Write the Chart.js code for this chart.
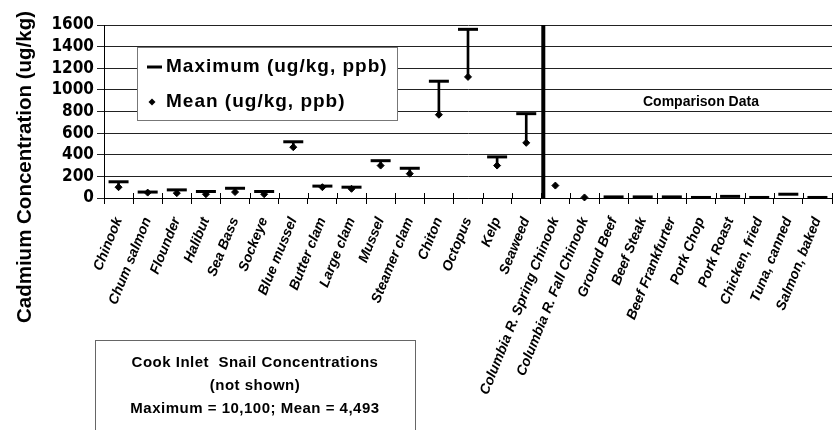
<!DOCTYPE html>
<html>
<head>
<meta charset="utf-8">
<script src="https://cdn.jsdelivr.net/npm/chart.js@4.4.1/dist/chart.umd.min.js"></script>
<style>
  html, body { margin: 0; padding: 0; background: #fff; overflow: hidden; }
  #wrap { width: 835px; height: 430px; overflow: hidden; position: relative; }
  canvas { display: block; }
</style>
</head>
<body>
<div id="wrap"><canvas id="chart" width="845" height="430"></canvas></div>
<script>
// Sample categories: Cook Inlet species first, then comparison foods
const categories = [
  'Chinook', 'Chum salmon', 'Flounder', 'Halibut', 'Sea Bass', 'Sockeye',
  'Blue mussel', 'Butter clam', 'Large clam', 'Mussel', 'Steamer clam',
  'Chiton', 'Octopus', 'Kelp', 'Seaweed',
  'Columbia R. Spring Chinook', 'Columbia R. Fall Chinook', 'Ground Beef',
  'Beef Steak', 'Beef Frankfurter', 'Pork Chop', 'Pork Roast',
  'Chicken, fried', 'Tuna, canned', 'Salmon, baked'
];

// Maximum cadmium concentration (ug/kg)
const maxValues = [
  150, 55, 75, 60, 90, 60,
  520, 110, 100, 345, 275,
  1080, 1560, 380, 780,
  null, null, 10,
  10, 10, 5, 15,
  5, 35, 5
];

// Mean cadmium concentration (ug/kg)
const meanValues = [
  100, 50, 45, 35, 55, 35,
  470, 100, 85, 300, 225,
  770, 1120, 300, 510,
  115, 5, null,
  null, null, null, null,
  null, null, null
];

const yTicks = [0, 200, 400, 600, 800, 1000, 1200, 1400, 1600];
const firstComparisonIndex = 15;
const axisTitle = 'Cadmium Concentration (ug/kg)';
const comparisonLabel = 'Comparison Data';
const legendLabels = ['Maximum (ug/kg, ppb)', 'Mean (ug/kg, ppb)'];
const snailNote = [
  'Cook Inlet  Snail Concentrations',
  '(not shown)',
  'Maximum = 10,100; Mean = 4,493'
];

// Vertical stems joining each mean to its maximum
const stems = categories.map((_, i) =>
  (meanValues[i] != null && maxValues[i] != null) ? [meanValues[i], maxValues[i]] : null);

const SANS = "'Liberation Sans', Arial, Helvetica, sans-serif";
const NARROW = "'Liberation Sans Narrow', 'Arial Narrow', 'DejaVu Sans Condensed', sans-serif";

const decorations = {
  id: 'decorations',
  afterDraw(chart) {
    const { ctx, chartArea: area, scales: { x, y } } = chart;
    const step = x.getPixelForValue(1) - x.getPixelForValue(0);
    ctx.save();

    // Tick stubs above the category axis
    ctx.strokeStyle = '#000';
    ctx.lineWidth = 1;
    ctx.beginPath();
    for (let i = 0; i <= categories.length; i++) {
      const px = Math.round(x.getPixelForValue(i) - step / 2) + 0.5;
      ctx.moveTo(px, area.bottom - 5);
      ctx.lineTo(px, area.bottom);
    }
    ctx.stroke();

    // Divider between the local samples and the comparison data
    const divX = x.getPixelForValue(firstComparisonIndex) - step / 2 + 2.5;
    ctx.lineWidth = 4;
    ctx.beginPath();
    ctx.moveTo(divX, area.top);
    ctx.lineTo(divX, area.bottom);
    ctx.stroke();

    // Comparison section caption
    ctx.fillStyle = '#000';
    ctx.font = `bold 14px ${SANS}`;
    ctx.textAlign = 'center';
    ctx.textBaseline = 'middle';
    ctx.fillText(comparisonLabel, x.getPixelForValue(20), y.getPixelForValue(890));

    // Y axis title
    ctx.save();
    ctx.translate(25, 167);
    ctx.rotate(-Math.PI / 2);
    ctx.font = `bold 20.5px ${SANS}`;
    ctx.textAlign = 'center';
    ctx.textBaseline = 'middle';
    ctx.fillText(axisTitle, 0, 0);
    ctx.restore();

    // Legend box
    const lx = area.left + 33, ly = area.top + 22, lw = 260, lh = 73;
    ctx.fillStyle = '#fff';
    ctx.fillRect(lx, ly, lw, lh);
    ctx.strokeStyle = '#777';
    ctx.lineWidth = 1;
    ctx.strokeRect(lx + 0.5, ly + 0.5, lw, lh);

    ctx.fillStyle = '#000';
    ctx.strokeStyle = '#000';
    ctx.lineWidth = 3;
    ctx.beginPath();
    ctx.moveTo(lx + 10, ly + 20);
    ctx.lineTo(lx + 25, ly + 20);
    ctx.stroke();

    const dx = lx + 15, dy = ly + 55, r = 3.5;
    ctx.beginPath();
    ctx.moveTo(dx - r, dy);
    ctx.lineTo(dx, dy - r);
    ctx.lineTo(dx + r, dy);
    ctx.lineTo(dx, dy + r);
    ctx.closePath();
    ctx.fill();

    ctx.font = `bold 19px ${SANS}`;
    ctx.letterSpacing = '1px';
    ctx.textAlign = 'left';
    ctx.textBaseline = 'middle';
    ctx.fillText(legendLabels[0], lx + 29, ly + 20);
    ctx.fillText(legendLabels[1], lx + 29, ly + 55);
    ctx.letterSpacing = '0px';

    // Note box about the snail samples
    const bx = 95, by = 340, bw = 320, bh = 100;
    ctx.fillStyle = '#fff';
    ctx.fillRect(bx, by, bw, bh);
    ctx.strokeStyle = '#666';
    ctx.lineWidth = 1;
    ctx.strokeRect(bx + 0.5, by + 0.5, bw, bh);
    ctx.fillStyle = '#000';
    ctx.font = `bold 15px ${SANS}`;
    ctx.textAlign = 'center';
    ctx.letterSpacing = '0.5px';
    snailNote.forEach((line, k) => ctx.fillText(line, bx + bw / 2, by + 23 + k * 23));
    ctx.restore();
  }
};

new Chart(document.getElementById('chart'), {
  type: 'bar',
  data: {
    labels: categories,
    datasets: [
      {
        label: legendLabels[0],
        type: 'line',
        data: maxValues,
        showLine: false,
        pointStyle: 'line',
        pointRadius: 10,
        pointHoverRadius: 10,
        borderWidth: 3,
        borderColor: '#000',
        backgroundColor: '#000',
        clip: false
      },
      {
        label: legendLabels[1],
        type: 'line',
        data: meanValues,
        showLine: false,
        pointStyle: 'rectRot',
        pointRadius: 3.5,
        pointHoverRadius: 3.5,
        borderWidth: 1,
        borderColor: '#000',
        backgroundColor: '#000',
        clip: false
      },
      {
        label: 'range',
        type: 'bar',
        data: stems,
        barThickness: 2,
        backgroundColor: '#000',
        borderWidth: 0
      }
    ]
  },
  options: {
    responsive: false,
    animation: false,
    devicePixelRatio: 1,
    layout: { padding: { left: 0, top: 25, right: 3.5, bottom: 0 } },
    plugins: { legend: { display: false }, tooltip: { enabled: false } },
    scales: {
      x: {
        offset: true,
        grid: { display: true, drawOnChartArea: false, offset: true, tickLength: 6, color: '#000', lineWidth: 1 },
        border: { display: true, color: '#000', width: 1 },
        ticks: {
          autoSkip: false,
          minRotation: 68,
          maxRotation: 68,
          padding: 11,
          color: '#000',
          font: { family: SANS, size: 14, weight: 'bold', style: 'italic' }
        },
        afterFit(scale) { scale.height = 232; }
      },
      y: {
        min: yTicks[0],
        max: yTicks[yTicks.length - 1],
        afterBuildTicks(scale) { scale.ticks = yTicks.map(v => ({ value: v })); },
        grid: { color: '#222', lineWidth: 1, tickLength: 7 },
        border: { display: true, color: '#000', width: 1 },
        ticks: {
          autoSkip: false,
          padding: 3,
          color: '#000',
          font: { family: NARROW, size: 17, weight: 'bold' },
          callback: (value) => String(value)
        },
        afterFit(scale) { scale.width = 104; }
      }
    }
  },
  plugins: [decorations]
});
</script>
</body>
</html>
